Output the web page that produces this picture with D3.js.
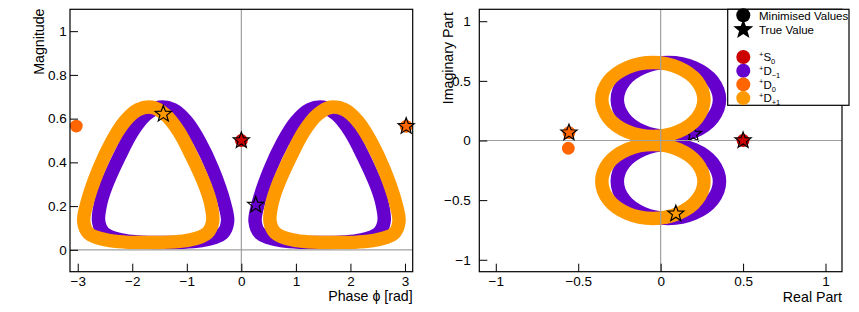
<!DOCTYPE html>
<html>
<head>
<meta charset="utf-8">
<script src="https://cdn.jsdelivr.net/npm/d3@7"></script>
<style>
body { margin: 0; background: #fff; }
svg { display: block; }
text { font-family: "Liberation Sans", Arial, Helvetica, sans-serif; fill: #000; }
</style>
</head>
<body>
<div id="chart"></div>
<script>
// ---- data ----
// true values, complex plane (order: +S0, +D-1, +D0, +D+1)
var trueRe = [0.500, 0.198, -0.556, 0.092];
var trueIm = [0.000, 0.054, 0.066, -0.614];
// true values, magnitude / phase
var truePhase = [0.000, 0.263, 3.022, -1.431];
var trueMag = [0.500, 0.205, 0.565, 0.621];

// minimised values shown as single points (wave index, re, im) and (wave index, phase, mag)
var minimisedComplex = [[0, 0.500, 0.000], [2, -0.556, 0.066], [2, -0.560, -0.065]];
var minimisedPolar = [[0, 0.000, 0.500], [2, 3.022, 0.565], [2, -3.026, 0.566]];

// scanned solution bands, complex plane [re, im]
var dPlus1RingUp = [[0.263,0.343],[0.221,0.498],[0.108,0.611],[-0.047,0.653],[-0.202,0.611],[-0.315,0.498],
    [-0.357,0.343],[-0.315,0.188],[-0.202,0.075],[-0.047,0.033],[0.108,0.075],[0.221,0.188]];
var dPlus1RingDown = [[0.263,-0.343],[0.221,-0.498],[0.108,-0.611],[-0.047,-0.653],[-0.202,-0.611],[-0.315,-0.498],
    [-0.357,-0.343],[-0.315,-0.188],[-0.202,-0.075],[-0.047,-0.033],[0.108,-0.075],[0.221,-0.188]];
var dMinus1RingUp = [[-0.263,0.343],[-0.221,0.498],[-0.108,0.611],[0.047,0.653],[0.202,0.611],[0.315,0.498],
    [0.357,0.343],[0.315,0.188],[0.202,0.075],[0.047,0.033],[-0.108,0.075],[-0.221,0.188]];
var dMinus1RingDown = [[-0.263,-0.343],[-0.221,-0.498],[-0.108,-0.611],[0.047,-0.653],[0.202,-0.611],[0.315,-0.498],
    [0.357,-0.343],[0.315,-0.188],[0.202,-0.075],[0.047,-0.033],[-0.108,-0.075],[-0.221,-0.188]];

// the same bands as [phase, magnitude]
var dPlus1LoopPos = [[0.912,0.430],[1.150,0.542],[1.395,0.618],[1.643,0.652],[1.892,0.641],[2.138,0.587],
    [2.380,0.493],[2.620,0.366],[2.830,0.214],[2.890,0.130],[2.800,0.075],[2.470,0.045],[1.690,0.033],
    [0.930,0.046],[0.620,0.078],[0.525,0.130],[0.560,0.210],[0.660,0.290]];
var dPlus1LoopNeg = [[-0.912,0.430],[-1.150,0.542],[-1.395,0.618],[-1.643,0.652],[-1.892,0.641],[-2.138,0.587],
    [-2.380,0.493],[-2.620,0.366],[-2.830,0.214],[-2.890,0.130],[-2.800,0.075],[-2.470,0.045],[-1.690,0.033],
    [-0.930,0.046],[-0.620,0.078],[-0.525,0.130],[-0.560,0.210],[-0.660,0.290]];
var dMinus1LoopPos = [[2.230,0.430],[1.992,0.542],[1.747,0.618],[1.499,0.652],[1.250,0.641],[1.004,0.587],
    [0.762,0.493],[0.522,0.366],[0.312,0.214],[0.252,0.130],[0.342,0.075],[0.672,0.045],[1.452,0.033],
    [2.212,0.046],[2.522,0.078],[2.617,0.130],[2.582,0.210],[2.482,0.290]];
var dMinus1LoopNeg = [[-2.230,0.430],[-1.992,0.542],[-1.747,0.618],[-1.499,0.652],[-1.250,0.641],[-1.004,0.587],
    [-0.762,0.493],[-0.522,0.366],[-0.312,0.214],[-0.252,0.130],[-0.342,0.075],[-0.672,0.045],[-1.452,0.033],
    [-2.212,0.046],[-2.522,0.078],[-2.617,0.130],[-2.582,0.210],[-2.482,0.290]];

// axis ticks
var phaseTicks = [-3, -2, -1, 0, 1, 2, 3];
var magTicks = [0, 0.2, 0.4, 0.6, 0.8, 1];
var partTicks = [-1, -0.5, 0, 0.5, 1];

// legend entries
var waveNames = [["+", "S", "0"], ["+", "D", "-1"], ["+", "D", "0"], ["+", "D", "+1"]];
var waveColours = ["#cc0000", "#6600cc", "#ff6600", "#ff9900"];

// ---- drawing ----
var width = 859, height = 312;
var bandWidth = 13.5;

var svg = d3.select("#chart").append("svg")
    .attr("width", width)
    .attr("height", height);

// star marker path centred on 0,0
function starPath(R) {
    var r = R * 0.42, p = [];
    for (var i = 0; i < 10; i++) {
        var a = -Math.PI / 2 + i * Math.PI / 5;
        var rr = (i % 2 === 0) ? R : r;
        p.push([rr * Math.cos(a), rr * Math.sin(a)]);
    }
    return "M" + p.map(function(q) { return q[0].toFixed(2) + "," + q[1].toFixed(2); }).join("L") + "Z";
}

var loopLine = d3.line().curve(d3.curveCatmullRomClosed.alpha(0.5));

function drawBand(g, pts, x, y, colour) {
    g.append("path")
        .attr("d", loopLine(pts.map(function(d) { return [x(d[0]), y(d[1])]; })))
        .attr("fill", "none")
        .attr("stroke", colour)
        .attr("stroke-width", bandWidth)
        .attr("stroke-linejoin", "round");
}

function drawStar(g, px, py, R) {
    g.append("path")
        .attr("d", starPath(R))
        .attr("transform", "translate(" + px + "," + py + ")")
        .attr("fill", "none")
        .attr("stroke", "#000")
        .attr("stroke-width", 1.2);
}

function drawDot(g, px, py, colour) {
    g.append("circle")
        .attr("cx", px).attr("cy", py).attr("r", 6.4)
        .attr("fill", colour);
}

function zeroLines(g, x, y) {
    g.append("line")
        .attr("x1", x(0)).attr("x2", x(0))
        .attr("y1", y.range()[0]).attr("y2", y.range()[1])
        .attr("stroke", "#a0a0a0").attr("stroke-width", 1.2);
    g.append("line")
        .attr("x1", x.range()[0]).attr("x2", x.range()[1])
        .attr("y1", y(0)).attr("y2", y(0))
        .attr("stroke", "#a0a0a0").attr("stroke-width", 1.2);
}

function axes(g, x, y, xMajor, xMinorStep, yMajor, yMinorStep, yPad) {
    var fmt = d3.format("~g");
    var x0 = x.domain()[0], x1 = x.domain()[1], y0 = y.domain()[0], y1 = y.domain()[1];
    var xMinor = d3.range(Math.ceil(x0 / xMinorStep - 1e-6), Math.floor(x1 / xMinorStep + 1e-6) + 1)
        .map(function(i) { return +(i * xMinorStep).toFixed(4); });
    var yMinor = d3.range(Math.ceil(y0 / yMinorStep - 1e-6), Math.floor(y1 / yMinorStep + 1e-6) + 1)
        .map(function(i) { return +(i * yMinorStep).toFixed(4); });

    var bottom = y.range()[0], left = x.range()[0];

    var gx = g.append("g").attr("transform", "translate(0," + bottom + ")");
    gx.call(d3.axisBottom(x).tickValues(xMinor).tickSize(-4).tickFormat(""));
    gx.call(d3.axisBottom(x).tickValues(xMajor).tickSize(-8).tickPadding(5).tickFormat(fmt));

    var gy = g.append("g").attr("transform", "translate(" + left + ",0)");
    gy.call(d3.axisLeft(y).tickValues(yMinor).tickSize(-4).tickFormat(""));
    gy.call(d3.axisLeft(y).tickValues(yMajor).tickSize(-8).tickPadding(yPad).tickFormat(fmt));

    g.selectAll(".domain").remove();
    g.selectAll(".tick line").attr("stroke", "#000").attr("stroke-width", 1);
    g.selectAll(".tick text")
        .attr("font-size", "13.5px")
        .attr("font-family", "Liberation Sans, Arial, sans-serif")
        .attr("fill", "#000");

    g.append("rect")
        .attr("x", x.range()[0]).attr("y", y.range()[1])
        .attr("width", x.range()[1] - x.range()[0])
        .attr("height", y.range()[0] - y.range()[1])
        .attr("fill", "none").attr("stroke", "#000").attr("stroke-width", 1.2);
}

// ---- left pad: magnitude vs phase ----
var xL = d3.scaleLinear().domain([-Math.PI, Math.PI]).range([70, 412.7]);
var yL = d3.scaleLinear().domain([-0.1, 1.1]).range([271.7, 9.3]);
var gL = svg.append("g");

drawBand(gL, dMinus1LoopPos, xL, yL, waveColours[1]);
drawStar(gL, xL(truePhase[1]), yL(trueMag[1]), 8.5);
drawBand(gL, dMinus1LoopNeg, xL, yL, waveColours[1]);
drawBand(gL, dPlus1LoopPos, xL, yL, waveColours[3]);
drawBand(gL, dPlus1LoopNeg, xL, yL, waveColours[3]);
zeroLines(gL, xL, yL);
drawStar(gL, xL(truePhase[3]), yL(trueMag[3]), 8.5);
minimisedPolar.forEach(function(d) { drawDot(gL, xL(d[1]), yL(d[2]), waveColours[d[0]]); });
drawStar(gL, xL(truePhase[0]), yL(trueMag[0]), 8.5);
drawStar(gL, xL(truePhase[2]), yL(trueMag[2]), 8.5);
axes(gL, xL, yL, phaseTicks, 0.2, magTicks, 0.04, 3.3);

gL.append("text")
    .attr("x", 412.7).attr("y", 301)
    .attr("text-anchor", "end")
    .attr("font-size", "14.2px")
    .text("Phase \u03d5 [rad]");
gL.append("text")
    .attr("transform", "translate(44,8.5) rotate(-90)")
    .attr("text-anchor", "end")
    .attr("font-size", "14.2px")
    .text("Magnitude");

// ---- right pad: imaginary vs real part ----
var xR = d3.scaleLinear().domain([-1.1, 1.1]).range([479.3, 842]);
var yR = d3.scaleLinear().domain([-1.1, 1.1]).range([271.7, 9.3]);
var gR = svg.append("g");

drawBand(gR, dMinus1RingUp, xR, yR, waveColours[1]);
drawStar(gR, xR(trueRe[1]), yR(trueIm[1]), 8.5);
drawBand(gR, dMinus1RingDown, xR, yR, waveColours[1]);
drawBand(gR, dPlus1RingUp, xR, yR, waveColours[3]);
drawBand(gR, dPlus1RingDown, xR, yR, waveColours[3]);
zeroLines(gR, xR, yR);
drawStar(gR, xR(trueRe[3]), yR(trueIm[3]), 8.5);
minimisedComplex.forEach(function(d) { drawDot(gR, xR(d[1]), yR(d[2]), waveColours[d[0]]); });
drawStar(gR, xR(trueRe[0]), yR(trueIm[0]), 8.5);
drawStar(gR, xR(trueRe[2]), yR(trueIm[2]), 8.5);
axes(gR, xR, yR, partTicks, 0.1, partTicks, 0.1, 8.6);

gR.append("text")
    .attr("x", 842).attr("y", 301.5)
    .attr("text-anchor", "end")
    .attr("font-size", "14.2px")
    .text("Real Part");
gR.append("text")
    .attr("transform", "translate(453,12) rotate(-90)")
    .attr("text-anchor", "end")
    .attr("font-size", "14.2px")
    .text("Imaginary Part");

// ---- legend ----
var leg = svg.append("g");
leg.append("rect")
    .attr("x", 727.7).attr("y", 9.3).attr("width", 121.3).attr("height", 96)
    .attr("fill", "#fff").attr("stroke", "#000").attr("stroke-width", 1.2);
var mx = 743.3, tx = 759;
leg.append("circle").attr("cx", mx).attr("cy", 15.3).attr("r", 7).attr("fill", "#000");
leg.append("text").attr("x", tx).attr("y", 19.6).attr("font-size", "11.5px").text("Minimised Values");
leg.append("path").attr("d", starPath(10.5)).attr("transform", "translate(" + mx + ",29.6)").attr("fill", "#000");
leg.append("text").attr("x", tx).attr("y", 33.9).attr("font-size", "11.5px").text("True Value");

waveNames.forEach(function(n, i) {
    var cy = 57 + i * 13.7;
    leg.append("circle").attr("cx", mx).attr("cy", cy).attr("r", 7).attr("fill", waveColours[i]);
    var t = leg.append("text").attr("x", tx).attr("y", cy + 4.3).attr("font-size", "11.5px");
    t.append("tspan").attr("font-size", "7.5px").attr("dy", -4.5).text(n[0]);
    t.append("tspan").attr("font-size", "11.5px").attr("dy", 4.5).text(n[1]);
    t.append("tspan").attr("font-size", "7.5px").attr("dy", 3).text(n[2].replace("-", "\u2212"));
});
</script>
</body>
</html>
